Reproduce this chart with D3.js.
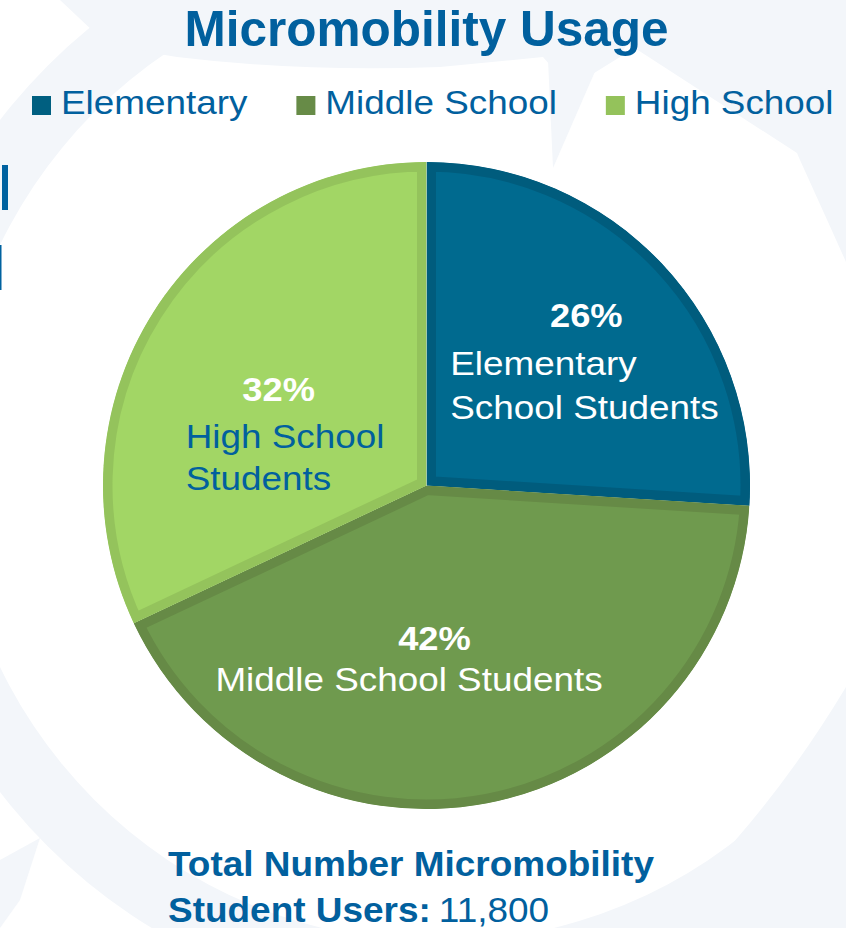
<!DOCTYPE html>
<html>
<head>
<meta charset="utf-8">
<script src="https://cdn.jsdelivr.net/npm/d3@7"></script>
<style>
  html, body { margin: 0; padding: 0; background: #ffffff; }
  svg { display: block; }
</style>
</head>
<body>
<svg id="chart" width="846" height="928"></svg>
<script>
// ---- data ----
const categories = ["Elementary", "Middle School", "High School"];
const shares = [26, 42, 32];
const sliceLines = [
  ["Elementary", "School Students"],
  ["Middle School Students"],
  ["High School", "Students"]
];
const chartTitle = "Micromobility Usage";
const totalCaption = ["Total Number Micromobility", "Student Users:"];
const totalUsers = 11800;

// ---- styling ----
const fillColors   = ["#006a8f", "#6f9a4e", "#a2d665"];
const edgeColors   = ["#005c7d", "#668a46", "#94c35c"];
const legendColors = ["#005f80", "#678b47", "#94c25b"];
const lineColors   = ["#ffffff", "#ffffff", "#01609e"];
const ink = "#01609e";
const haze = "#f3f6fa";
const font = "Arial, 'Liberation Sans', sans-serif";

const cx = 426.5, cy = 485.5, R = 323.5, edge = 9.5;

const svg = d3.select("#chart");

// widen glyphs horizontally by factor k; returns the final drawn width
function stretch(sel, k) {
  const w = sel.node().getComputedTextLength() * k;
  sel.attr("textLength", w).attr("lengthAdjust", "spacingAndGlyphs");
  return w;
}

// ---- faint swirl backdrop ----
const bg = svg.append("g").attr("fill", haze);
bg.append("path")
  .attr("transform", "translate(438,456)")
  .attr("d", d3.arc()({ innerRadius: 486, outerRadius: 552, startAngle: 0, endAngle: 2 * Math.PI }));
bg.append("path")
  .attr("d", "M60,0 L95,33 Q130,50 177,57 Q300,72 440,67 L543,57 L570,88 L620,57 L627,43 L797,153 L800,160 L833,233 L846,262 L846,0 Z");
bg.append("path").attr("d", "M548,60 L600,60 L553,168 Z");
bg.append("path").attr("d", "M0,860 L40,838 L20,900 L0,928 Z");
bg.append("path").attr("d", "M846,687 Q760,830 648,928 L846,928 Z");

// stray marks at the left edge
svg.append("rect").attr("x", 2).attr("y", 165).attr("width", 6).attr("height", 45).attr("fill", "#0062a0");
svg.append("rect").attr("x", 0).attr("y", 245).attr("width", 1.5).attr("height", 45).attr("fill", "#0062a0");

// ---- pie ----
const pie = d3.pie().sort(null).value(d => d)(shares);
const arc = d3.arc().innerRadius(0).outerRadius(R);
const labelArc = d3.arc().innerRadius(200).outerRadius(200);

const defs = svg.append("defs");
const pieG = svg.append("g").attr("transform", `translate(${cx},${cy})`);

pie.forEach((p, i) => {
  defs.append("clipPath").attr("id", "slice-clip-" + i)
    .append("path").attr("d", arc(p));
  pieG.append("path")
    .attr("d", arc(p))
    .attr("fill", fillColors[i])
    .attr("stroke", edgeColors[i])
    .attr("stroke-width", edge * 2)
    .attr("stroke-linejoin", "miter")
    .attr("clip-path", `url(#slice-clip-${i})`);
});

// label placement relative to each slice's label centroid
const labelLayout = [
  { pct: [14, -22], lines: [-122, 26], anchor: "start", step: 44 },
  { pct: [-29.5, -32], lines: [-55, 9], anchor: "middle", step: 44 },
  { pct: [21, 23], lines: [-72, 70], anchor: "start", step: 42 }
];

pie.forEach((p, i) => {
  const [lx, ly] = labelArc.centroid(p);
  const L = labelLayout[i];
  const pct = pieG.append("text")
    .attr("x", lx + L.pct[0]).attr("y", ly + L.pct[1])
    .attr("text-anchor", "middle")
    .attr("font-family", font).attr("font-weight", "bold")
    .attr("font-size", 33).attr("fill", "#ffffff")
    .text(shares[i] + "%");
  stretch(pct, 1.1);
  sliceLines[i].forEach((line, j) => {
    const t = pieG.append("text")
      .attr("x", lx + L.lines[0]).attr("y", ly + L.lines[1] + j * L.step)
      .attr("text-anchor", L.anchor)
      .attr("font-family", font)
      .attr("font-size", 33.5).attr("fill", lineColors[i])
      .text(line);
    stretch(t, 1.1);
  });
});

// ---- legend ----
const legend = svg.append("g");
let legendX = 32;
categories.forEach((c, i) => {
  legend.append("rect")
    .attr("x", legendX).attr("y", 96).attr("width", 19).attr("height", 19)
    .attr("fill", legendColors[i]);
  const t = legend.append("text")
    .attr("x", legendX + 29).attr("y", 114)
    .attr("font-family", font).attr("font-size", 33.5).attr("fill", ink)
    .text(c);
  const w = stretch(t, 1.1);
  legendX += 29 + w + 49;
});

// ---- title ----
const title = svg.append("text")
  .attr("x", cx).attr("y", 46)
  .attr("text-anchor", "middle")
  .attr("font-family", font).attr("font-weight", "bold")
  .attr("font-size", 50).attr("fill", ink)
  .text(chartTitle);
stretch(title, 0.99);

// ---- total caption ----
const cap1 = svg.append("text")
  .attr("x", 168).attr("y", 876)
  .attr("font-family", font).attr("font-weight", "bold")
  .attr("font-size", 35).attr("fill", ink)
  .text(totalCaption[0]);
stretch(cap1, 1.056);
const cap2 = svg.append("text")
  .attr("x", 168).attr("y", 922)
  .attr("font-family", font).attr("font-weight", "bold")
  .attr("font-size", 35).attr("fill", ink)
  .text(totalCaption[1]);
const cap2w = stretch(cap2, 1.056);
const num = svg.append("text")
  .attr("x", 168 + cap2w + 8).attr("y", 922)
  .attr("font-family", font)
  .attr("font-size", 35).attr("fill", ink)
  .text(d3.format(",")(totalUsers));
stretch(num, 1.056);
</script>
</body>
</html>
